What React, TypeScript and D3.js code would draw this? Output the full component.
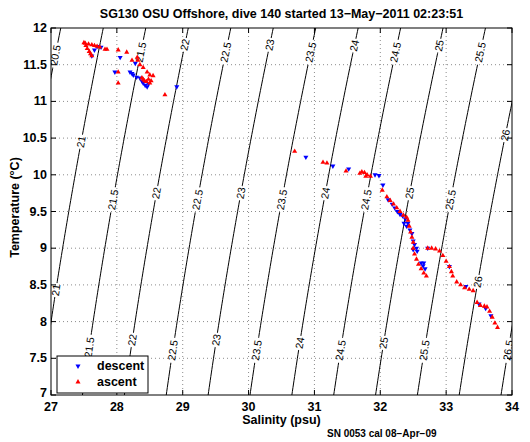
import React from "react";
import * as d3 from "d3";

const TITLE = "SG130 OSU Offshore, dive 140 started 13\u2212May\u22122011 02:23:51";
const X_LABEL = "Salinity (psu)";
const Y_LABEL = "Temperature (\u00B0C)";
const FOOTNOTE = "SN 0053 cal 08\u2212Apr\u221209";

const salinityTicks = [27, 28, 29, 30, 31, 32, 33, 34];
const tempTicks = [7, 7.5, 8, 8.5, 9, 9.5, 10, 10.5, 11, 11.5, 12];
const sigmaLevels = [20.5, 21, 21.5, 22, 22.5, 23, 23.5, 24, 24.5, 25, 25.5, 26, 26.5];

// contour label placements: level and temperature
const labelLevels = [
  20.5, 21.5, 22, 22.5, 23, 23.5, 24, 24.5, 25, 25.5,
  21, 21.5, 22, 22.5, 23, 23.5, 24, 24.5, 25, 25.5, 26, 26,
  21, 21.5, 22, 22.5, 23, 23.5, 24, 24.5, 25, 25.5, 26.5,
];
const labelTemps = [
  11.63, 11.67, 11.77, 11.67, 11.77, 11.67, 11.76, 11.67, 11.76, 11.67,
  10.45, 9.66, 9.75, 9.66, 9.75, 9.66, 9.75, 9.66, 9.75, 9.66, 8.54, 10.54,
  8.43, 7.65, 7.75, 7.61, 7.75, 7.61, 7.71, 7.61, 7.71, 7.61, 7.61,
];

// [salinity, temperature]
const descent: [number, number][] = [
  [27.62, 11.62], [27.7, 11.75], [27.76, 11.74], [27.66, 11.7], [28.05, 11.6],
  [27.97, 11.4], [28.2, 11.4], [28.23, 11.38], [28.25, 11.36], [28.28, 11.52],
  [28.3, 11.33], [28.35, 11.32], [28.38, 11.28], [28.4, 11.25], [28.43, 11.22],
  [28.46, 11.2], [28.48, 11.24], [28.91, 11.2],
  [30.87, 10.24], [31.28, 10.12], [31.52, 10.08], [31.92, 10.0], [31.98, 9.99],
  [32.04, 9.86], [32.12, 9.66], [32.18, 9.6], [32.22, 9.55], [32.26, 9.5],
  [32.3, 9.46], [32.34, 9.44], [32.38, 9.4], [32.36, 9.34], [32.4, 9.3],
  [32.42, 9.34], [32.45, 9.25], [32.48, 9.2], [32.5, 9.1], [32.52, 9.05],
  [32.55, 9.0], [32.5, 8.98], [32.56, 8.96], [32.62, 8.8], [32.65, 8.76],
  [32.68, 8.72], [32.66, 8.8], [32.72, 9.0], [33.05, 8.75], [33.3, 8.48],
  [33.5, 8.24], [33.6, 8.18], [33.68, 8.08],
];

const ascent: [number, number][] = [
  [27.5, 11.8], [27.53, 11.76], [27.55, 11.72], [27.58, 11.68], [27.6, 11.65],
  [27.62, 11.62], [27.52, 11.79], [27.57, 11.78], [27.62, 11.77], [27.66, 11.76],
  [27.7, 11.75], [27.74, 11.74], [27.82, 11.71], [27.85, 11.71], [28.02, 11.7],
  [28.15, 11.67], [28.23, 11.56], [28.31, 11.6], [28.32, 11.56], [28.35, 11.5],
  [28.4, 11.46], [28.46, 11.4], [28.5, 11.36], [28.55, 11.35], [28.02, 11.4],
  [28.02, 11.25], [28.73, 11.09], [28.4, 11.3], [28.42, 11.28], [28.45, 11.27],
  [28.48, 11.3], [28.5, 11.25], [28.52, 11.28], [28.38, 11.32],
  [30.7, 10.32], [31.13, 10.17], [31.19, 10.16], [31.48, 10.05], [31.69, 10.02],
  [31.72, 10.04], [31.76, 10.03], [31.8, 10.0], [31.85, 9.98], [31.78, 9.98],
  [32.03, 9.79], [32.1, 9.7], [32.15, 9.65], [32.2, 9.6], [32.25, 9.55],
  [32.3, 9.5], [32.35, 9.45], [32.4, 9.42], [32.42, 9.38], [32.44, 9.3],
  [32.46, 9.22], [32.48, 9.15], [32.5, 9.08], [32.5, 9.0], [32.52, 8.92],
  [32.55, 8.85], [32.58, 8.78], [32.62, 8.72], [32.66, 8.66], [32.7, 8.62],
  [32.72, 9.0], [32.78, 9.0], [32.84, 8.99], [32.9, 8.96], [32.95, 8.9],
  [33.0, 8.82], [33.05, 8.75], [33.08, 8.68], [33.1, 8.62], [33.16, 8.54],
  [33.22, 8.5], [33.28, 8.46], [33.35, 8.44], [33.41, 8.42], [33.47, 8.26],
  [33.52, 8.22], [33.58, 8.21], [33.62, 8.2], [33.66, 8.14], [33.7, 8.06],
  [33.74, 7.98], [33.78, 7.92],
];

function sigmaT(S: number, T: number): number {
  const rw = 999.842594 + 6.793952e-2 * T - 9.09529e-3 * T * T + 1.001685e-4 * T ** 3 - 1.120083e-6 * T ** 4 + 6.536332e-9 * T ** 5;
  const A = 8.24493e-1 - 4.0899e-3 * T + 7.6438e-5 * T * T - 8.2467e-7 * T ** 3 + 5.3875e-9 * T ** 4;
  const B = -5.72466e-3 + 1.0227e-4 * T - 1.6546e-6 * T * T;
  const C = 4.8314e-4;
  return rw + A * S + B * Math.pow(S, 1.5) + C * S * S - 1000;
}

function salinityFor(sig: number, T: number): number {
  let lo = 0, hi = 45;
  for (let i = 0; i < 60; i++) {
    const mid = (lo + hi) / 2;
    if (sigmaT(mid, T) < sig) lo = mid; else hi = mid;
  }
  return (lo + hi) / 2;
}

const FONT = "'Liberation Sans', Arial, Helvetica, sans-serif";

export default function App() {
  const W = 530, H = 442;
  const left = 51, right = 512, top = 28, bottom = 395;
  const x = d3.scaleLinear().domain([27, 34]).range([left, right]);
  const y = d3.scaleLinear().domain([7, 12]).range([bottom, top]);

  const temps = d3.range(6.8, 12.25, 0.05);
  const line = d3.line<[number, number]>().x((d) => x(d[0])).y((d) => y(d[1]));

  const labels = labelLevels.map((lev, i) => {
    const T = labelTemps[i];
    const S = salinityFor(lev, T);
    const x1 = x(salinityFor(lev, T - 0.05)), y1 = y(T - 0.05);
    const x2 = x(salinityFor(lev, T + 0.05)), y2 = y(T + 0.05);
    const ang = (Math.atan2(y2 - y1, x2 - x1) * 180) / Math.PI;
    const text = String(lev);
    const w = text.length * 5.6 + 3;
    return { px: x(S), py: y(T), ang, text, w };
  });

  const tri = d3.symbol().type(d3.symbolTriangle).size(11)() as string;
  const tickLen = 5;

  return (
    <div style={{ position: "absolute", left: 0, top: 0 }}>
      <svg width={W} height={H} style={{ display: "block", background: "#fff" }} fontFamily={FONT}>
        <defs>
          <clipPath id="plotclip">
            <rect x={left} y={top} width={right - left} height={bottom - top} />
          </clipPath>
          <mask id="labelmask" maskUnits="userSpaceOnUse" x={0} y={0} width={W} height={H}>
            <rect x={0} y={0} width={W} height={H} fill="#fff" />
            {labels.map((l, i) => (
              <rect key={i} x={-l.w / 2} y={-5} width={l.w} height={10} fill="#000"
                transform={`translate(${l.px},${l.py}) rotate(${l.ang})`} />
            ))}
          </mask>
        </defs>
        <rect x={left} y={top} width={right - left} height={bottom - top} fill="#fff" />
        {/* grid */}
        <g stroke="#8c8c8c" strokeWidth={1} strokeDasharray="1 3">
          {salinityTicks.slice(1, -1).map((s) => (
            <line key={s} x1={x(s)} x2={x(s)} y1={top} y2={bottom} />
          ))}
          {tempTicks.slice(1, -1).map((t) => (
            <line key={t} x1={left} x2={right} y1={y(t)} y2={y(t)} />
          ))}
        </g>
        {/* contours */}
        <g clipPath="url(#plotclip)">
          <g mask="url(#labelmask)" fill="none" stroke="#000" strokeWidth={1}>
            {sigmaLevels.map((lev) => (
              <path key={lev} d={line(temps.map((t) => [salinityFor(lev, t), t] as [number, number])) || ""} />
            ))}
          </g>
          {labels.map((l, i) => (
            <text key={i} transform={`translate(${l.px},${l.py}) rotate(${l.ang})`} textAnchor="middle"
              dy="0.35em" fontSize={10.5} fill="#000">{l.text}</text>
          ))}
          {descent.map((d, i) => (
            <path key={"d" + i} d={tri} fill="#0000ff" transform={`translate(${x(d[0])},${y(d[1])}) rotate(180)`} />
          ))}
          {ascent.map((d, i) => (
            <path key={"a" + i} d={tri} fill="#ff0000" transform={`translate(${x(d[0])},${y(d[1])})`} />
          ))}
        </g>
        {/* axes box and ticks */}
        <rect x={left} y={top} width={right - left} height={bottom - top} fill="none" stroke="#000" strokeWidth={1} />
        <g stroke="#000" strokeWidth={1}>
          {salinityTicks.map((s) => (
            <g key={s}>
              <line x1={x(s)} x2={x(s)} y1={bottom} y2={bottom - tickLen} />
              <line x1={x(s)} x2={x(s)} y1={top} y2={top + tickLen} />
            </g>
          ))}
          {tempTicks.map((t) => (
            <g key={t}>
              <line x1={left} x2={left + tickLen} y1={y(t)} y2={y(t)} />
              <line x1={right} x2={right - tickLen} y1={y(t)} y2={y(t)} />
            </g>
          ))}
        </g>
        <g fontSize={12.5} fontWeight="bold" fill="#000">
          {salinityTicks.map((s) => (
            <text key={s} x={x(s)} y={411} textAnchor="middle">{s}</text>
          ))}
          {tempTicks.map((t) => (
            <text key={t} x={left - 4} y={y(t) + (t === 7 ? 2 : 4)} textAnchor="end">{t}</text>
          ))}
          <text x={(left + right) / 2} y={18} textAnchor="middle">{TITLE}</text>
          <text x={(left + right) / 2} y={424} textAnchor="middle">{X_LABEL}</text>
          <text transform={`translate(19,${(top + bottom) / 2 - 4}) rotate(-90)`} textAnchor="middle">{Y_LABEL}</text>
        </g>
        <text x={327} y={437} fontSize={10} fontWeight="bold" fill="#000">{FOOTNOTE}</text>
        {/* legend */}
        <g>
          <rect x={57} y={356} width={91} height={37} fill="#fff" stroke="#000" strokeWidth={1} />
          <path d={tri} fill="#0000ff" transform="translate(78,366) rotate(180)" />
          <path d={tri} fill="#ff0000" transform="translate(78,382)" />
          <text x={97} y={370} fontSize={12.5} fontWeight="bold">descent</text>
          <text x={97} y={386} fontSize={12.5} fontWeight="bold">ascent</text>
        </g>
      </svg>
    </div>
  );
}
